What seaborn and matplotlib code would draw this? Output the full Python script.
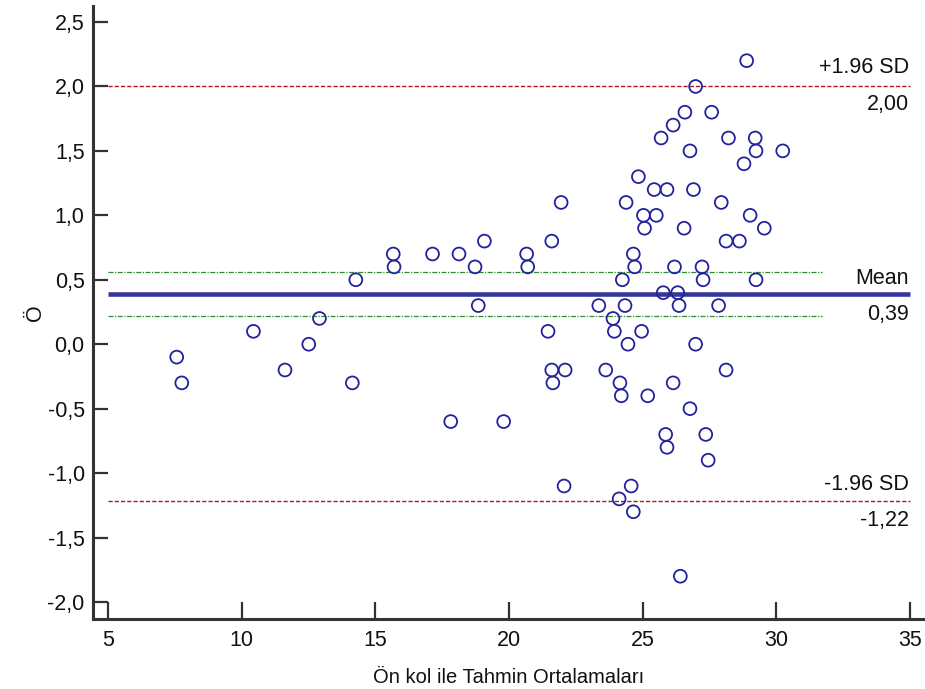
import matplotlib
matplotlib.use("Agg")
import matplotlib.pyplot as plt
import seaborn as sns
import pandas as pd
from matplotlib.ticker import FuncFormatter

# ---- data ----
mean_x = [7.57, 7.76, 10.44, 11.62, 12.51, 12.91, 14.14, 14.27, 15.67, 15.70,
          17.14, 18.13, 19.08, 18.73, 18.85, 17.82, 19.80, 20.66, 20.70, 21.60,
          21.95, 21.46, 21.60, 21.64, 22.10, 23.36, 23.62, 24.34, 24.24, 23.89,
          23.94, 24.45, 24.15, 24.20, 24.38, 28.89, 26.98, 26.58, 27.58, 26.14,
          25.69, 28.21, 29.21, 26.77, 29.24, 30.24, 28.79, 24.84, 25.43, 25.91,
          26.90, 27.94, 25.03, 25.51, 29.02, 25.07, 26.55, 29.55, 28.12, 28.62,
          24.65, 24.70, 26.19, 27.22, 27.26, 29.24, 25.77, 26.31, 26.36, 27.84,
          24.96, 26.98, 28.12, 26.14, 25.19, 26.77, 25.86, 27.36, 25.91, 27.45,
          22.06, 24.57, 24.12, 24.65, 26.41]
diff_y = [-0.1, -0.3, 0.1, -0.2, 0.0, 0.2, -0.3, 0.5, 0.7, 0.6,
          0.7, 0.7, 0.8, 0.6, 0.3, -0.6, -0.6, 0.7, 0.6, 0.8,
          1.1, 0.1, -0.2, -0.3, -0.2, 0.3, -0.2, 0.3, 0.5, 0.2,
          0.1, 0.0, -0.3, -0.4, 1.1, 2.2, 2.0, 1.8, 1.8, 1.7,
          1.6, 1.6, 1.6, 1.5, 1.5, 1.5, 1.4, 1.3, 1.2, 1.2,
          1.2, 1.1, 1.0, 1.0, 1.0, 0.9, 0.9, 0.9, 0.8, 0.8,
          0.7, 0.6, 0.6, 0.6, 0.5, 0.5, 0.4, 0.4, 0.3, 0.3,
          0.1, 0.0, -0.2, -0.3, -0.4, -0.5, -0.7, -0.7, -0.8, -0.9,
          -1.1, -1.1, -1.2, -1.3, -1.8]

mean_diff = 0.39
upper_loa = 2.00
lower_loa = -1.22
mean_ci = [0.22, 0.56]
line_x_range = [5, 35]
ci_x_range = [5, 31.7]

x_ticks = [5, 10, 15, 20, 25, 30, 35]
y_ticks = [-2.0, -1.5, -1.0, -0.5, 0.0, 0.5, 1.0, 1.5, 2.0, 2.5]

x_label = "Ön kol ile Tahmin Ortalamaları"
y_label = "Ö"
upper_label, upper_value = "+1.96 SD", "2,00"
mean_label, mean_value = "Mean", "0,39"
lower_label, lower_value = "-1.96 SD", "-1,22"

# ---- style ----
sns.set_theme(style="white")
plt.rcParams["font.family"] = ["Liberation Sans", "DejaVu Sans"]

navy = "#22229c"
spine_c = "#333333"
text_c = "#111111"

fig = plt.figure(figsize=(9.25, 6.89), dpi=100)
ax = fig.add_axes([93 / 925, (689 - 619) / 689, 1 - 93 / 925, (619 - 6) / 689])

df = pd.DataFrame({"x": mean_x, "y": diff_y})
sns.scatterplot(data=df, x="x", y="y", ax=ax, marker="o", s=85,
                facecolors="none", edgecolor=navy, linewidth=1.3, zorder=3)

# reference lines
ax.hlines(upper_loa, *line_x_range, colors="#b01818", linestyles=(0, (3, 1.5)), linewidth=1.0, zorder=2)
ax.hlines(lower_loa, *line_x_range, colors="#b01818", linestyles=(0, (3, 1.5)), linewidth=1.0, zorder=2)
ax.hlines(mean_diff, *line_x_range, colors="#35359a", linewidth=3.3, zorder=2)
for v in mean_ci:
    ax.hlines(v, *ci_x_range, colors="#2e8b2e", linestyles=(0, (4, 1.2, 1, 1.2)), linewidth=0.9, zorder=2)

# right-side annotations
tx = line_x_range[1] - 0.05
fs = 15.5
for val, top, bottom, up_off, down_off in [(upper_loa, upper_label, upper_value, 13.5, -13),
                                           (mean_diff, mean_label, mean_value, 11, -15),
                                           (lower_loa, lower_label, lower_value, 12, -14)]:
    ax.annotate(top, xy=(tx, val), xytext=(0, up_off), textcoords="offset points",
                ha="right", va="center", fontsize=fs, color=text_c)
    ax.annotate(bottom, xy=(tx, val), xytext=(0, down_off), textcoords="offset points",
                ha="right", va="center", fontsize=fs, color=text_c)

# axes
ax.set_xlim(5 - 15 / 26.73, 35 + 15 / 26.73)
ax.set_ylim(-2.0 - 17 / 128.9, 2.5 + 16 / 128.9)
ax.set_xticks(x_ticks)
ax.set_yticks(y_ticks)
ax.xaxis.set_major_formatter(FuncFormatter(lambda v, p: f"{v:.0f}"))
ax.yaxis.set_major_formatter(FuncFormatter(lambda v, p: f"{v:.1f}".replace(".", ",")))
ax.tick_params(axis="x", direction="in", length=12, width=1.6, color=spine_c,
               labelsize=15.5, pad=8, bottom=True, labelcolor=text_c)
ax.tick_params(axis="y", direction="in", length=11, width=1.6, color=spine_c,
               labelsize=15.5, pad=6, left=True, labelcolor=text_c)
for s in ["top", "right"]:
    ax.spines[s].set_visible(False)
for s in ["left", "bottom"]:
    ax.spines[s].set_color(spine_c)
    ax.spines[s].set_linewidth(2.2)
ax.set_xlabel(x_label, fontsize=14.5, labelpad=12, color=text_c)
ax.set_ylabel(y_label, fontsize=15.5, labelpad=1, color=text_c)
ax.grid(False)

fig.savefig("out.png", dpi=100)
